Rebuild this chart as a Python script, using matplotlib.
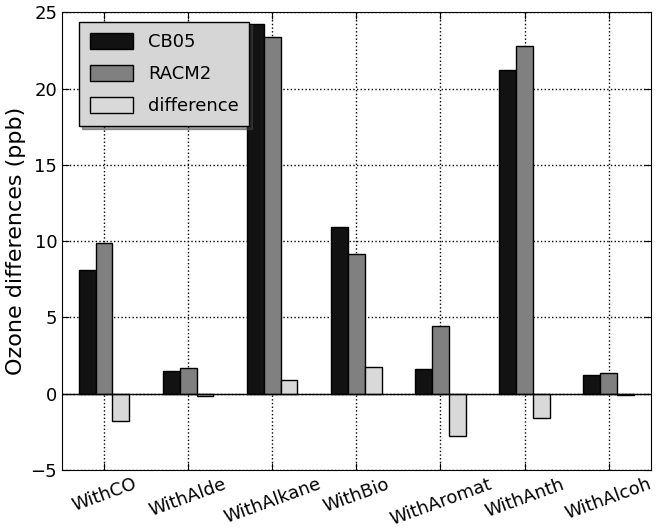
import numpy as np
import matplotlib.pyplot as plt

# Ozone differences per sensitivity run (ppb)
runs = ['WithCO', 'WithAlde', 'WithAlkane', 'WithBio', 'WithAromat', 'WithAnth', 'WithAlcoh']
cb05 = [8.08, 1.51, 24.23, 10.9, 1.64, 21.2, 1.25]
racm2 = [9.87, 1.66, 23.36, 9.13, 4.45, 22.8, 1.38]
difference = [-1.79, -0.17, 0.88, 1.77, -2.79, -1.61, -0.1]

ind = np.arange(len(runs))
width = 0.2

fig = plt.figure(figsize=(6.56, 5.3), dpi=100)
ax = fig.add_axes([0.0945, 0.113, 0.8975, 0.864])

ax.bar(ind - width, cb05, width, color='#121212', edgecolor='black', linewidth=1, label='CB05')
ax.bar(ind, racm2, width, color='#808080', edgecolor='black', linewidth=1, label='RACM2')
ax.bar(ind + width, difference, width, color='#d9d9d9', edgecolor='black', linewidth=1, label='difference')
ax.axhline(0, color='black', linewidth=1)

ax.set_xlim(-0.5, len(runs) - 0.5)
ax.set_ylim(-5, 25)
ax.set_xticks(ind)
ax.set_xticklabels(runs, rotation=20, ha='center', fontsize=13)
ax.set_yticks([-5, 0, 5, 10, 15, 20, 25])
ax.tick_params(axis='y', labelsize=13)
ax.tick_params(direction='in', top=True, right=True, length=5)
ax.set_ylabel('Ozone differences (ppb)', fontsize=16, labelpad=3)

ax.grid(True, linestyle=':', color='black', linewidth=1)
ax.set_axisbelow(True)

leg = ax.legend(loc='upper left', bbox_to_anchor=(0.02, 0.99), fontsize=13, shadow=True,
                fancybox=False, framealpha=1, borderaxespad=0.3, handlelength=2.4,
                handleheight=1.0, labelspacing=0.75, handletextpad=0.8, borderpad=0.6)
leg.get_frame().set_facecolor('#d6d6d6')
leg.get_frame().set_edgecolor('black')

fig.savefig('out.png', dpi=100)
